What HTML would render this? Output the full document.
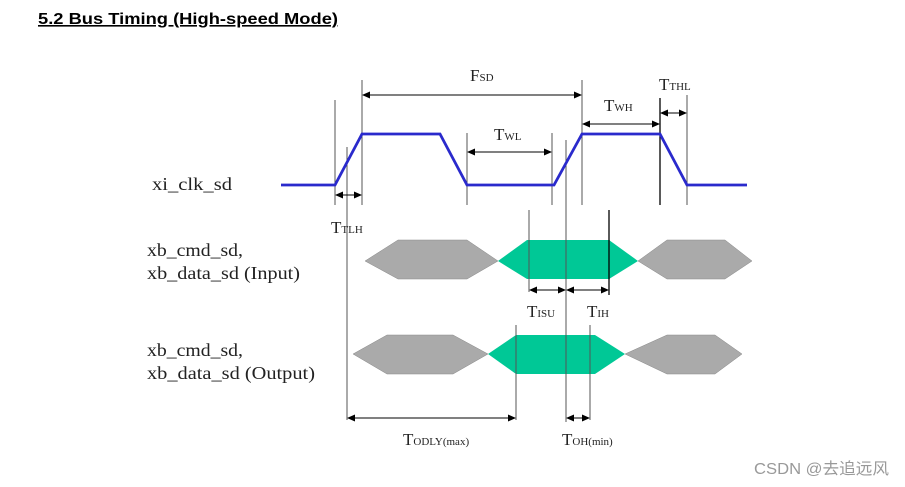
<!DOCTYPE html>
<html><head><style>body{margin:0;background:#fff}svg{display:block}</style></head><body>
<svg width="905" height="487" viewBox="0 0 905 487" xmlns="http://www.w3.org/2000/svg">
<defs><marker id="a" markerWidth="8" markerHeight="8" refX="7" refY="4" orient="auto-start-reverse" markerUnits="userSpaceOnUse"><path d="M0,0.5 L8,4 L0,7.5z" fill="#000"/></marker></defs>
<text x="38" y="24" font-family="Liberation Sans, sans-serif" font-size="16" font-weight="bold" text-decoration="underline" textLength="300" lengthAdjust="spacingAndGlyphs">5.2 Bus Timing (High-speed Mode)</text>
<g stroke="#555" stroke-width="1">
<line x1="335" y1="100" x2="335" y2="205"/><line x1="347" y1="147" x2="347" y2="420"/>
<line x1="362" y1="80" x2="362" y2="205"/><line x1="467" y1="133" x2="467" y2="205"/>
<line x1="552" y1="133" x2="552" y2="205"/><line x1="566" y1="140" x2="566" y2="422"/>
<line x1="582" y1="80" x2="582" y2="205"/><line x1="687" y1="95" x2="687" y2="205"/>
<line x1="529" y1="210" x2="529" y2="292"/><line x1="516" y1="325" x2="516" y2="420"/><line x1="590" y1="325" x2="590" y2="420"/>
</g>
<g stroke="#000" stroke-width="1.3"><line x1="660" y1="98" x2="660" y2="205"/><line x1="609" y1="210" x2="609" y2="295"/></g>
<polyline points="281,185 335,185 362,134 440,134 467,185 554,185 582,134 660,134 687,185 747,185" fill="none" stroke="#2a2acc" stroke-width="2.8"/>
<g fill="#aaa" stroke="#888" stroke-width="0.5">
<polygon points="365,261 398,240 467,240 498,261 467,279 398,279"/>
<polygon points="638,261 667,240 725,240 752,261 725,279 667,279"/>
<polygon points="353,354 387,335 453,335 488,354 453,374 387,374"/>
<polygon points="625,354 667,335 715,335 742,354 715,374 667,374"/>
</g>
<g fill="#00c896"><polygon points="498,261 527,240 609,240 638,261 609,279 527,279"/><polygon points="488,354 516,335 595,335 625,354 595,374 516,374"/></g>
<g stroke="#555" stroke-width="1"><line x1="529" y1="240" x2="529" y2="279"/><line x1="566" y1="240" x2="566" y2="374"/><line x1="516" y1="335" x2="516" y2="374"/><line x1="590" y1="335" x2="590" y2="374"/></g>
<line x1="609" y1="240" x2="609" y2="279" stroke="#000" stroke-width="1.3"/>
<g stroke="#000" stroke-width="1" marker-start="url(#a)" marker-end="url(#a)">
<line x1="363" y1="95" x2="581" y2="95"/><line x1="583" y1="124" x2="659" y2="124"/>
<line x1="661" y1="113" x2="686" y2="113"/><line x1="468" y1="152" x2="551" y2="152"/>
<line x1="336" y1="195" x2="361" y2="195"/><line x1="530" y1="290" x2="565" y2="290"/>
<line x1="567" y1="290" x2="608" y2="290"/><line x1="348" y1="418" x2="515" y2="418"/>
<line x1="567" y1="418" x2="589" y2="418"/>
</g>
<g font-family="Liberation Serif, serif" fill="#222">
<text x="470" y="81" font-size="17">F<tspan font-size="11">SD</tspan></text>
<text x="604" y="111" font-size="17">T<tspan font-size="11">WH</tspan></text>
<text x="659" y="90" font-size="17">T<tspan font-size="11">THL</tspan></text>
<text x="494" y="140" font-size="17">T<tspan font-size="11">WL</tspan></text>
<text x="331" y="233" font-size="17">T<tspan font-size="11">TLH</tspan></text>
<text x="527" y="317" font-size="17">T<tspan font-size="11">ISU</tspan></text>
<text x="587" y="317" font-size="17">T<tspan font-size="11">IH</tspan></text>
<text x="403" y="445" font-size="17">T<tspan font-size="11">ODLY(max)</tspan></text>
<text x="562" y="445" font-size="17">T<tspan font-size="11">OH(min)</tspan></text>
<text x="152" y="190" font-size="18" textLength="80" lengthAdjust="spacingAndGlyphs">xi_clk_sd</text>
<text x="147" y="256" font-size="18" textLength="96" lengthAdjust="spacingAndGlyphs">xb_cmd_sd,</text>
<text x="147" y="279" font-size="18" textLength="153" lengthAdjust="spacingAndGlyphs">xb_data_sd (Input)</text>
<text x="147" y="356" font-size="18" textLength="96" lengthAdjust="spacingAndGlyphs">xb_cmd_sd,</text>
<text x="147" y="379" font-size="18" textLength="168" lengthAdjust="spacingAndGlyphs">xb_data_sd (Output)</text>
</g>
<text x="754" y="474" font-family="Liberation Sans, Noto Sans CJK SC, sans-serif" font-size="16" fill="#999" textLength="135" lengthAdjust="spacingAndGlyphs">CSDN @去追远风</text>
</svg>
</body></html>
